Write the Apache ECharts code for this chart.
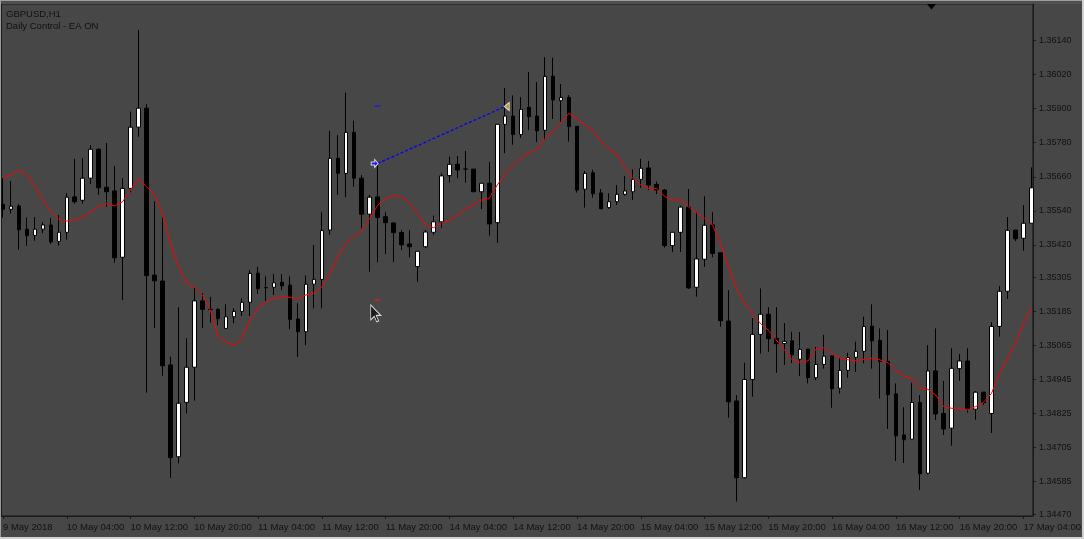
<!DOCTYPE html>
<html><head><meta charset="utf-8">
<script src="https://cdn.jsdelivr.net/npm/echarts@6/dist/echarts.min.js"></script>
<style>html,body{margin:0;padding:0;background:#474747;}#c{width:1084px;height:539px;}</style>
</head><body><div id="c"></div>
<script>
// ---- DATA (GBPUSD H1, bar index 0 = 9 May 2018 20:00) ----
const openP = [
1.35563,1.35545,1.35557,1.35475,1.35453,1.35475,1.35490,1.35432,1.35464,1.35589,
1.35577,1.35655,1.35757,1.35623,1.35610,1.35376,1.35619,1.35835,1.35902,1.35313,
1.35292,1.34996,1.34672,1.34864,1.34988,1.35222,1.35192,1.35192,1.35125,1.35166,
1.35185,1.35217,1.35320,1.35269,1.35270,1.35288,1.35278,1.35158,1.35113,1.35281,
1.35298,1.35472,1.35725,1.35672,1.35817,1.35655,1.35528,1.35589,1.35519,1.35497,
1.35463,1.35423,1.35343,1.35413,1.35464,1.35501,1.35664,1.35704,1.35687,1.35687,
1.35607,1.35637,1.35498,1.35845,1.35874,1.35809,1.35905,1.35874,1.35824,1.36015,
1.35928,1.35940,1.35838,1.35616,1.35674,1.35603,1.35551,1.35572,1.35598,1.35607,
1.35651,1.35691,1.35633,1.35613,1.35417,1.35464,1.35553,1.35270,1.35369,1.35490,
1.35392,1.35151,1.34869,1.34598,1.34945,1.35104,1.35175,1.35090,1.35072,1.35081,
1.35016,1.35052,1.34951,1.34998,1.35028,1.34914,1.34977,1.35023,1.35044,1.35133,
1.35083,1.35009,1.34894,1.34749,1.34734,1.34864,1.34614,1.34975,1.34825,1.34773,
1.34983,1.35010,1.34840,1.34900,1.34825,1.35132,1.35256,1.35472,1.35443,1.35496];
const closeP = [
1.35545,1.35556,1.35473,1.35452,1.35475,1.35490,1.35430,1.35464,1.35588,1.35572,
1.35655,1.35757,1.35621,1.35607,1.35374,1.35619,1.35835,1.35902,1.35311,1.35293,
1.34993,1.34669,1.34861,1.34988,1.35222,1.35192,1.35191,1.35159,1.35166,1.35185,
1.35217,1.35319,1.35265,1.35268,1.35286,1.35275,1.35157,1.35113,1.35281,1.35298,
1.35470,1.35725,1.35672,1.35817,1.35655,1.35528,1.35588,1.35516,1.35498,1.35463,
1.35420,1.35413,1.35397,1.35465,1.35501,1.35663,1.35704,1.35684,1.35687,1.35607,
1.35637,1.35493,1.35845,1.35874,1.35809,1.35898,1.35872,1.35822,1.36014,1.35931,
1.35940,1.35837,1.35613,1.35672,1.35600,1.35547,1.35572,1.35598,1.35610,1.35651,
1.35690,1.35631,1.35613,1.35417,1.35464,1.35553,1.35268,1.35370,1.35489,1.35389,
1.35152,1.34866,1.34598,1.34945,1.35104,1.35175,1.35089,1.35071,1.35079,1.35032,
1.35051,1.34951,1.34998,1.35027,1.34912,1.34977,1.35022,1.35044,1.35132,1.35081,
1.35008,1.34891,1.34746,1.34732,1.34864,1.34612,1.34975,1.34823,1.34770,1.34984,
1.35010,1.34840,1.34900,1.34863,1.35132,1.35256,1.35471,1.35441,1.35496,1.35621];
const lowP = [
1.35516,1.35530,1.35403,1.35417,1.35434,1.35461,1.35423,1.35417,1.35438,1.35565,
1.35565,1.35634,1.35596,1.35554,1.35357,1.35225,1.35605,1.35801,1.34898,1.35127,
1.34958,1.34598,1.34649,1.34825,1.34870,1.35127,1.35145,1.35136,1.35125,1.35143,
1.35169,1.35169,1.35247,1.35222,1.35243,1.35260,1.35122,1.35024,1.35066,1.35196,
1.35196,1.35455,1.35596,1.35588,1.35625,1.35478,1.35325,1.35358,1.35387,1.35359,
1.35402,1.35376,1.35290,1.35409,1.35455,1.35480,1.35639,1.35655,1.35639,1.35607,
1.35546,1.35452,1.35427,1.35743,1.35773,1.35797,1.35825,1.35783,1.35790,1.35864,
1.35854,1.35784,1.35604,1.35551,1.35586,1.35547,1.35547,1.35560,1.35593,1.35578,
1.35621,1.35613,1.35599,1.35410,1.35395,1.35395,1.35264,1.35237,1.35342,1.35376,
1.35131,1.34810,1.34514,1.34596,1.34884,1.35036,1.35042,1.34968,1.34996,1.35002,
1.34957,1.34931,1.34943,1.34983,1.34845,1.34895,1.34951,1.34972,1.35002,1.34983,
1.34877,1.34770,1.34657,1.34650,1.34734,1.34555,1.34610,1.34802,1.34749,1.34711,
1.34940,1.34828,1.34803,1.34855,1.34756,1.35096,1.35229,1.35433,1.35399,1.35496];
const highP = [
1.35655,1.35645,1.35563,1.35517,1.35518,1.35500,1.35515,1.35525,1.35602,1.35723,
1.35726,1.35772,1.35760,1.35779,1.35698,1.35655,1.35890,1.36178,1.35916,1.35574,
1.35516,1.35025,1.35200,1.35090,1.35268,1.35249,1.35236,1.35196,1.35210,1.35196,
1.35231,1.35330,1.35342,1.35309,1.35317,1.35316,1.35309,1.35214,1.35312,1.35419,
1.35535,1.35822,1.35807,1.35957,1.35858,1.35666,1.35596,1.35707,1.35535,1.35499,
1.35472,1.35471,1.35397,1.35472,1.35523,1.35672,1.35731,1.35733,1.35751,1.35687,
1.35637,1.35712,1.35845,1.35973,1.35947,1.35941,1.36029,1.35994,1.36082,1.36080,
1.35987,1.35948,1.35838,1.35680,1.35685,1.35617,1.35602,1.35631,1.35663,1.35686,
1.35723,1.35716,1.35643,1.35617,1.35464,1.35558,1.35617,1.35535,1.35591,1.35535,
1.35392,1.35260,1.34890,1.35004,1.35161,1.35266,1.35200,1.35200,1.35144,1.35113,
1.35112,1.35052,1.35060,1.35102,1.35028,1.35021,1.35039,1.35078,1.35166,1.35210,
1.35125,1.35119,1.34931,1.34847,1.34933,1.34890,1.35066,1.35125,1.34940,1.35055,
1.35035,1.35055,1.34904,1.34900,1.35147,1.35275,1.35518,1.35472,1.35560,1.35693];
const maP = [
1.35658,1.35666,1.35684,1.35666,1.35625,1.35578,1.35537,1.35510,1.35504,1.35507,
1.35519,1.35537,1.35554,1.35566,1.35557,1.35572,1.35613,1.35655,1.35625,1.35596,
1.35531,1.35425,1.35343,1.35286,1.35270,1.35243,1.35190,1.35094,1.35076,1.35066,
1.35090,1.35155,1.35196,1.35219,1.35231,1.35235,1.35235,1.35229,1.35243,1.35249,
1.35272,1.35319,1.35378,1.35425,1.35449,1.35472,1.35513,1.35560,1.35582,1.35593,
1.35590,1.35566,1.35531,1.35490,1.35480,1.35498,1.35507,1.35525,1.35546,1.35560,
1.35578,1.35584,1.35631,1.35672,1.35701,1.35727,1.35745,1.35757,1.35796,1.35819,
1.35851,1.35884,1.35864,1.35843,1.35822,1.35784,1.35760,1.35737,1.35693,1.35655,
1.35631,1.35619,1.35619,1.35590,1.35578,1.35578,1.35554,1.35533,1.35513,1.35490,
1.35425,1.35342,1.35266,1.35214,1.35178,1.35143,1.35119,1.35084,1.35049,1.35014,
1.35005,1.35011,1.35052,1.35057,1.35037,1.35020,1.35014,1.35011,1.35016,1.35020,
1.35014,1.35004,1.34978,1.34955,1.34949,1.34914,1.34910,1.34890,1.34849,1.34843,
1.34843,1.34837,1.34849,1.34864,1.34896,1.34967,1.35020,1.35072,1.35143,1.35199];
// trade: open bar/price, close bar/price; take-profit & stop-loss levels; mouse cursor
const tradeOpen = [47, 1.35707];
const tradeClose = [63, 1.35908];
const takeProfit = [47, 1.35909];
const stopLoss = [47, 1.35225];
const cursorAt = [46.125, 1.35208];
const yTickLabels = ['1.36140','1.36020','1.35900','1.35780','1.35660','1.35540','1.35420','1.35305','1.35185','1.35065','1.34945','1.34825','1.34705','1.34585','1.34470'];
const xTickBars = [0,8,16,24,32,40,48,56,64,72,80,88,96,104,112,120,128];
const xTickLabels = ['9 May 2018','10 May 04:00','10 May 12:00','10 May 20:00','11 May 04:00','11 May 12:00','11 May 20:00','14 May 04:00','14 May 12:00','14 May 20:00','15 May 04:00','15 May 12:00','15 May 20:00','16 May 04:00','16 May 12:00','16 May 20:00','17 May 04:00'];
const titleLines = ['GBPUSD,H1', 'Daily Control - EA ON'];

// ---- BUILD ----
const bars = openP.map((o, i) => [i, o, closeP[i], lowP[i], highP[i]]);
const maLine = maP.map((v, i) => [i, v]);
const yTickValues = yTickLabels.map(Number);
const FONT = 'Liberation Sans';
const TXT = '#111111';
const LINE = '#1a1a1a';

const chart = echarts.init(document.getElementById('c'), null, {renderer: 'canvas'});
chart.setOption({
  animation: false,
  backgroundColor: '#474747',
  grid: {left: 1, top: 4, width: 1035, height: 512, show: true, borderColor: LINE, borderWidth: 1, backgroundColor: 'transparent'},
  xAxis: {
    type: 'value', min: -0.1875, max: 129.1875,
    splitLine: {show: false},
    axisLine: {show: true, onZero: false, lineStyle: {color: LINE, width: 1}},
    axisTick: {show: true, length: 3, customValues: xTickBars, lineStyle: {color: LINE}},
    axisLabel: {
      customValues: xTickBars, align: 'left', margin: 6, color: TXT, fontFamily: FONT, fontSize: 9.5,
      formatter: v => { const i = xTickBars.indexOf(Math.round(v)); return i >= 0 ? xTickLabels[i] : ''; }
    }
  },
  yAxis: {
    type: 'value', position: 'right', min: 1.344631, max: 1.362695, scale: true,
    splitLine: {show: false},
    axisLine: {show: true, onZero: false, lineStyle: {color: LINE, width: 1}},
    axisTick: {show: true, length: 3, customValues: yTickValues, lineStyle: {color: LINE}},
    axisLabel: {
      customValues: yTickValues, margin: 6, color: TXT, fontFamily: FONT, fontSize: 9,
      formatter: v => { let b = 0; yTickValues.forEach((t, i) => { if (Math.abs(t - v) < Math.abs(yTickValues[b] - v)) b = i; }); return yTickLabels[b]; }
    }
  },
  series: [
    {
      type: 'candlestick', data: bars, barWidth: 4, clip: true,
      itemStyle: {color: '#ffffff', color0: '#000000', borderColor: '#000000', borderColor0: '#000000', borderColorDoji: '#000000', borderWidth: 1},
      emphasis: {disabled: true}
    },
    {
      type: 'line', data: maLine, showSymbol: false, symbol: 'none', clip: true, z: 3,
      lineStyle: {color: '#ff0000', width: 1}, emphasis: {disabled: true}
    },
    {
      type: 'line', data: [tradeOpen, tradeClose], showSymbol: false, symbol: 'none', z: 4,
      lineStyle: {color: '#0000ff', width: 1.3, type: [3, 2]}, emphasis: {disabled: true}
    },
    {
      type: 'scatter', z: 5, silent: true,
      data: [tradeOpen], symbol: 'path://M0,2.5 L3.5,2.5 L3.5,0 L7,4 L3.5,8 L3.5,5.5 L0,5.5 Z',
      symbolSize: [7, 8], symbolOffset: [-3, 0],
      itemStyle: {color: '#1414ff', borderColor: '#ffffff', borderWidth: 1}
    },
    {
      type: 'scatter', z: 5, silent: true,
      data: [tradeClose], symbol: 'path://M0,4 L5,0 L5,8 Z',
      symbolSize: [5, 8], symbolOffset: [1.5, 0],
      itemStyle: {color: '#d9a53a', borderColor: '#ffffff', borderWidth: 1}
    },
    {
      type: 'scatter', z: 5, silent: true,
      data: [takeProfit], symbol: 'rect', symbolSize: [6, 1.5],
      itemStyle: {color: '#1414ff'}
    },
    {
      type: 'scatter', z: 5, silent: true,
      data: [stopLoss], symbol: 'rect', symbolSize: [6, 1.5],
      itemStyle: {color: '#ff1414'}
    },
    {
      type: 'scatter', z: 6, silent: true,
      data: [cursorAt], symbol: 'path://M0,0 L0,15 L3.5,11.5 L6,17 L8,16 L5.5,10.5 L10,10.5 Z',
      symbolSize: [10, 17], symbolOffset: [5, 8.5],
      itemStyle: {color: '#111111', borderColor: '#ffffff', borderWidth: 1}
    }
  ],
  graphic: [
    {type: 'rect', shape: {x: 0, y: 0, width: 1084, height: 1}, style: {fill: '#9c9c9c'}, silent: true},
    {type: 'rect', shape: {x: 0, y: 1, width: 1084, height: 3}, style: {fill: '#4f4f4f'}, silent: true},
    {type: 'rect', shape: {x: 0, y: 0, width: 1, height: 539}, style: {fill: '#9c9c9c'}, silent: true},
    {type: 'rect', shape: {x: 1082, y: 0, width: 2, height: 539}, style: {fill: '#d0d0d0'}, silent: true, z: 100},
    {type: 'rect', shape: {x: 0, y: 537, width: 1084, height: 2}, style: {fill: '#d0d0d0'}, silent: true, z: 100},
    {type: 'polygon', shape: {points: [[927, 4], [936, 4], [931.5, 9.5]]}, style: {fill: '#000000'}, silent: true, z: 100},
    {type: 'text', left: 6, top: 9, style: {text: titleLines[0], fill: TXT, font: '9.5px "Liberation Sans"'}, silent: true, z: 100},
    {type: 'text', left: 6, top: 21, style: {text: titleLines[1], fill: TXT, font: '9.5px "Liberation Sans"'}, silent: true, z: 100}
  ]
});
</script>
</body></html>
